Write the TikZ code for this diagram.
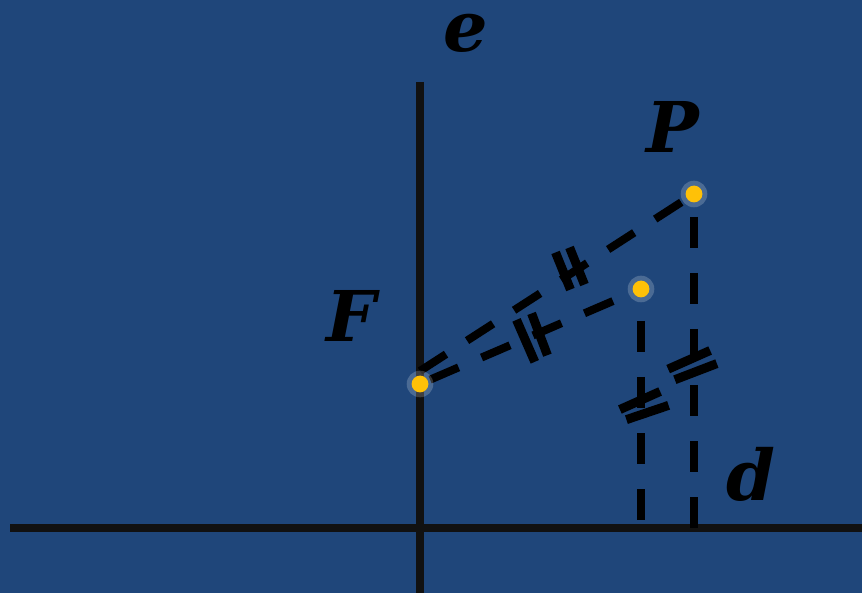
\documentclass[tikz,border=0pt]{standalone}
\usepackage{fontspec}
\setmainfont{DejaVu Serif}
\definecolor{bgblue}{HTML}{1F467A}
\definecolor{axisblack}{HTML}{111111}
\definecolor{dotyellow}{HTML}{FFC107}
\begin{document}
\begin{tikzpicture}[x=1pt,y=-1pt,
  axis/.style={line width=7.5pt, draw=axisblack},
  dline/.style={line width=8pt, draw=black, dash pattern=on 31pt off 25pt},
  tickbar/.style={line width=9pt, draw=black, shorten <=-2pt, shorten >=-2pt},
  halo/.style={fill=white, fill opacity=0.2},
  dotfill/.style={fill=dotyellow},
  lab/.style={font=\bfseries\itshape\fontsize{70}{74}\selectfont, inner sep=0pt, anchor=base, text=black}]
\fill[bgblue] (0,0) rectangle (862,593);
\useasboundingbox (0,0) rectangle (862,593);
% coordinates
\coordinate (F) at (420,384);
\coordinate (F2) at (420,371);
\coordinate (P) at (694,194);
\coordinate (Q) at (641,289);
\coordinate (Pd) at (694,528);
\coordinate (Qd) at (641,528);
\coordinate (eTop) at (420,82);
\coordinate (eBot) at (420,593);
\coordinate (dL) at (10,528);
\coordinate (dR) at (862,528);
% axes
\draw[axis] (dL) -- (dR);
\draw[axis] (eTop) -- (eBot);
% dashed segments
\draw[dline] (F2) -- (P);
\draw[dline, dash phase=45pt] (F) -- (Q);
\draw[dline, dash phase=33pt] (P) -- (Pd);
\draw[dline, dash phase=24pt] (Q) -- (Qd);
% tick marks
\draw[tickbar] (556.3,254.3) -- (569.7,287.7);
\draw[tickbar] (570.3,249.3) -- (583.7,282.7);
\draw[tickbar] (517.3,321.7) -- (534,360);
\draw[tickbar] (532.3,315.3) -- (546.7,353.3);
\draw[tickbar] (670,368.3) -- (708.3,351.3);
\draw[tickbar] (676.7,379) -- (715,364.3);
\draw[tickbar] (621.7,408.7) -- (658.3,392.3);
\draw[tickbar] (628.3,419) -- (666.7,406);
% points
\foreach \p in {F,P,Q} {
  \fill[halo] (\p) circle (13.3pt);
  \fill[dotfill] (\p) circle (8.4pt);
}
% labels
\node[lab] (le) at (466,52) {e};
\node[lab] (lP) at (673,153) {P};
\node[lab] (lF) at (351,342) {F};
\node[lab] (ld) at (751,500) {d};
\end{tikzpicture}
\end{document}
